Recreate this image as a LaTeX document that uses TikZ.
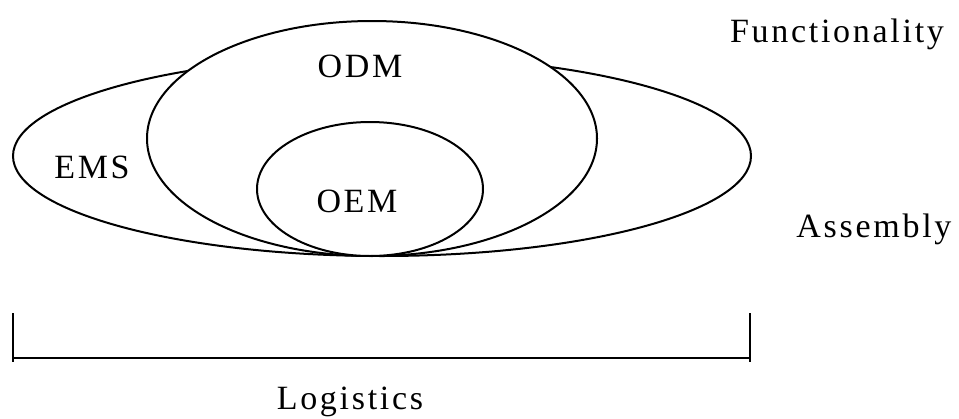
\documentclass[tikz,border=0pt]{standalone}
\usepackage{fontspec}
\setmainfont[LetterSpace=8]{Liberation Serif}
\begin{document}
\begin{tikzpicture}[x=1pt,y=-1pt,
  ring/.style={line width=2pt, draw=black, fill=white},
  lbl/.style={inner sep=0pt, anchor=base, font=\fontsize{34}{38}\selectfont},
  bar/.style={line width=2pt}]
\useasboundingbox (0,0) rectangle (959,418);
% ellipses
\draw[ring] (382,156) ellipse [x radius=369pt, y radius=100pt];
\draw[ring] (372,138.5) ellipse [x radius=225pt, y radius=117.5pt];
\draw[ring] (370,189) ellipse [x radius=113pt, y radius=67pt];
% labels
\node[lbl] (odm) at (360,77) {ODM};
\node[lbl] (ems) at (92,178) {EMS};
\node[lbl] (oem) at (357,212) {OEM};
\node[lbl] (func) at (837,42) {Functionality};
\node[lbl] (asm) at (874,237) {Assembly};
\node[lbl] (log) at (350,409) {Logistics};
% bracket
\coordinate (bl) at (13,358);
\coordinate (br) at (750,358);
\coordinate (blt) at (13,313);
\coordinate (brt) at (750,313);
\draw[bar] (blt) -- ([yshift=-4pt]bl);
\draw[bar] (brt) -- ([yshift=-4pt]br);
\draw[bar] (bl) -- (br);
\end{tikzpicture}
\end{document}
